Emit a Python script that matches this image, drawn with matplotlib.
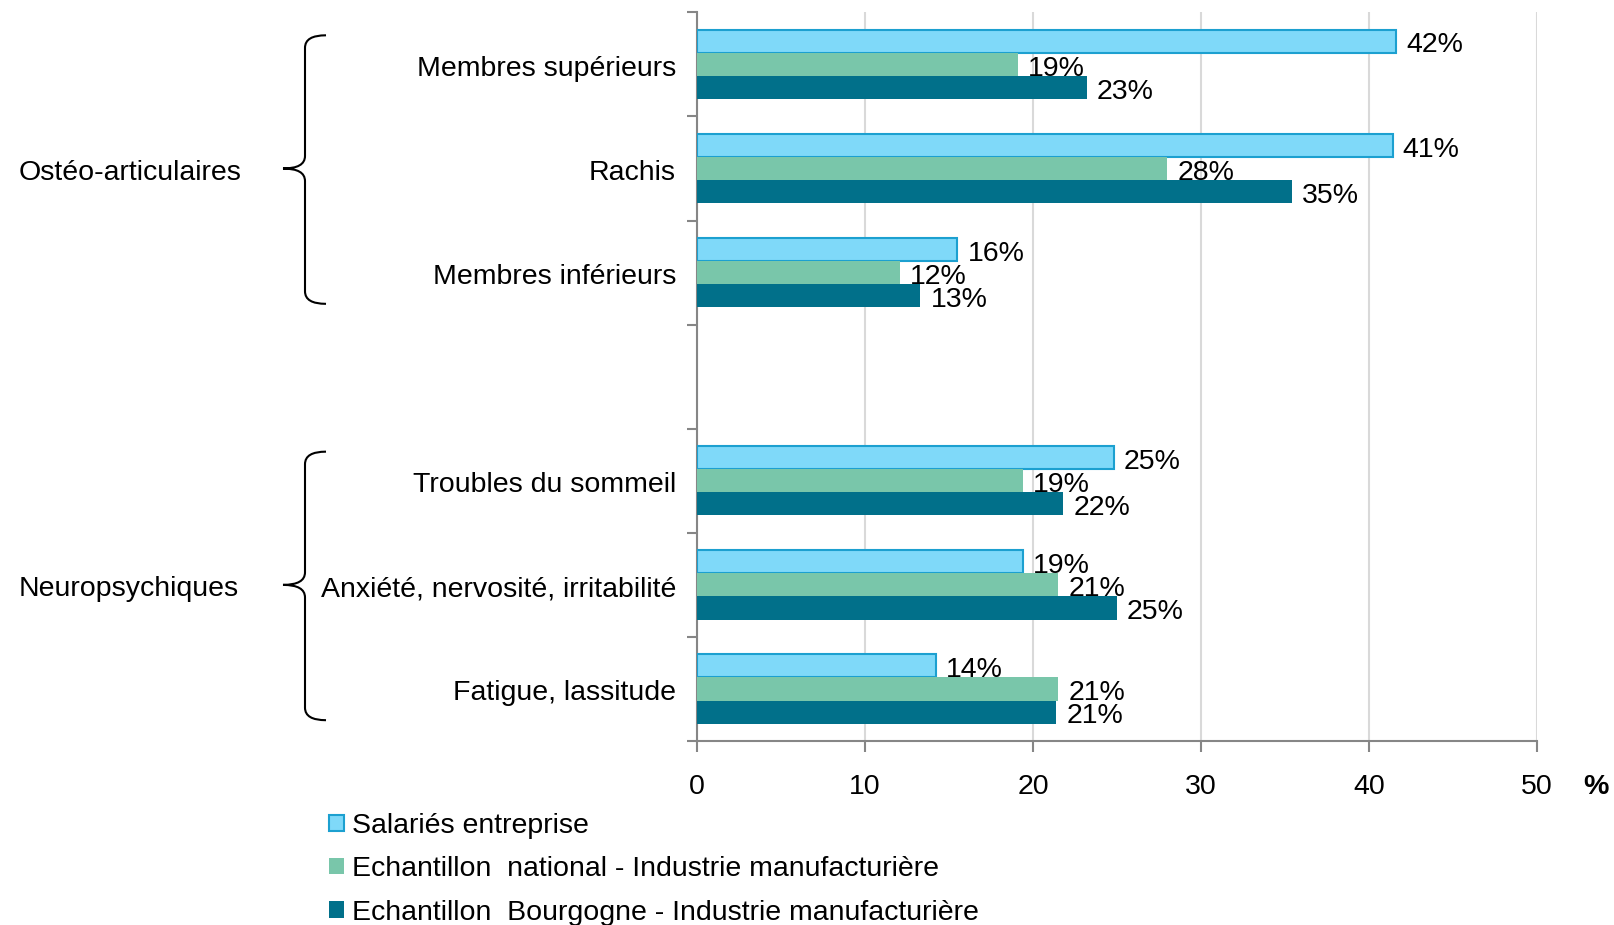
import numpy as np
import matplotlib
matplotlib.use("Agg")
import matplotlib.pyplot as plt
from matplotlib.path import Path
from matplotlib.patches import PathPatch, Patch
import matplotlib.transforms as mtransforms

plt.rcParams['font.family'] = ['Liberation Sans', 'DejaVu Sans']

# categories (empty string = gap between the two groups)
categories = ["Membres supérieurs", "Rachis", "Membres inférieurs", "",
              "Troubles du sommeil", "Anxiété, nervosité, irritabilité", "Fatigue, lassitude"]
salaries = [41.6, 41.4, 15.5, None, 24.8, 19.4, 14.2]
national = [19.1, 28.0, 12.1, None, 19.4, 21.5, 21.5]
bourgogne = [23.2, 35.4, 13.3, None, 21.8, 25.0, 21.4]
labels_sal = ["42%", "41%", "16%", None, "25%", "19%", "14%"]
labels_nat = ["19%", "28%", "12%", None, "19%", "21%", "21%"]
labels_bou = ["23%", "35%", "13%", None, "22%", "25%", "21%"]

series_names = ["Salariés entreprise",
                "Echantillon  national - Industrie manufacturière",
                "Echantillon  Bourgogne - Industrie manufacturière"]
groups = ["Ostéo-articulaires", "Neuropsychiques"]
group_centers = [1, 5]  # index of the middle category of each group

c_blue = "#7fd9f9"
c_blue_edge = "#1ca0d0"
c_green = "#79c6aa"
c_dark = "#01708a"
fs = 20.5

fig = plt.figure(figsize=(16.14, 9.25), dpi=100)
ax = fig.add_axes([0.4318, 0.1989, 0.5205, 0.7877])

h = 0.222
for i, cat in enumerate(categories):
    if salaries[i] is None:
        continue
    yc = i + 0.5
    ax.barh(yc - h, salaries[i], height=h, color=c_blue, edgecolor=c_blue_edge, linewidth=1.5, zorder=3)
    ax.barh(yc, national[i], height=h, color=c_green, zorder=3)
    ax.barh(yc + h, bourgogne[i], height=h, color=c_dark, zorder=3)
    ax.text(salaries[i] + 0.6, yc - h + 0.04, labels_sal[i], va='center', ha='left', fontsize=fs)
    ax.text(national[i] + 0.6, yc + 0.04, labels_nat[i], va='center', ha='left', fontsize=fs)
    ax.text(bourgogne[i] + 0.6, yc + h + 0.04, labels_bou[i], va='center', ha='left', fontsize=fs)
    ax.text(-1.25, yc + 0.04, cat, va='center', ha='right', fontsize=fs)

ax.set_ylim(len(categories), 0)
ax.set_yticks(np.arange(len(categories) + 1))
ax.set_yticklabels([])
ax.set_xlim(0, 50)
ax.set_xticks([0, 10, 20, 30, 40, 50])
ax.set_xticklabels(["0", "10", "20", "30", "40", "50"], fontsize=fs)
ax.tick_params(axis='x', direction='out', length=8, width=1.5, color='#868686', pad=16)
ax.tick_params(axis='y', direction='out', length=7, width=1.5, color='#868686')
ax.grid(axis='x', color='#d9d9d9', linewidth=1.5, zorder=0)
ax.set_axisbelow(True)
for s in ['top', 'right']:
    ax.spines[s].set_visible(False)
for s in ['left', 'bottom']:
    ax.spines[s].set_color('#868686')
    ax.spines[s].set_linewidth(1.5)

ax.text(1.0696, -0.063, "%", transform=ax.transAxes, fontsize=fs, fontweight='bold',
        ha='center', va='center')

# group labels and braces
trans = mtransforms.blended_transform_factory(fig.transFigure, ax.transData)
W = 1614.0
xv = 305 / W   # vertical line of the brace
xa = 326 / W   # arm ends
xp = 283 / W   # point
for g, ci in zip(groups, group_centers):
    top = ci - 1 + 0.22
    bot = ci + 1 + 0.8
    mid = ci + 0.5
    verts = [(xa, top), (xv, top), (xv, top + 0.12),
             (xv, mid - 0.12), (xv, mid), (xp, mid),
             (xv, mid), (xv, mid + 0.12),
             (xv, bot - 0.12), (xv, bot), (xa, bot)]
    codes = [Path.MOVETO, Path.CURVE3, Path.CURVE3,
             Path.LINETO, Path.CURVE3, Path.CURVE3,
             Path.CURVE3, Path.CURVE3,
             Path.LINETO, Path.CURVE3, Path.CURVE3]
    patch = PathPatch(Path(verts, codes), transform=trans, facecolor='none',
                      edgecolor='black', linewidth=1.5, clip_on=False)
    fig.add_artist(patch)
    t = fig.text(18.5 / W, mid + 0.04, g, fontsize=fs, va='center', ha='left')
    t.set_transform(trans)

handles = [Patch(facecolor=c_blue, edgecolor=c_blue_edge, linewidth=1.5),
           Patch(facecolor=c_dark if False else c_green),
           Patch(facecolor=c_dark)]
fig.legend(handles, series_names, loc='upper left', bbox_to_anchor=(0.197, 0.133),
           frameon=False, fontsize=fs, handlelength=0.5, handleheight=0.5,
           handletextpad=0.3, labelspacing=0.6, borderaxespad=0)

fig.savefig("out.png", dpi=100)
